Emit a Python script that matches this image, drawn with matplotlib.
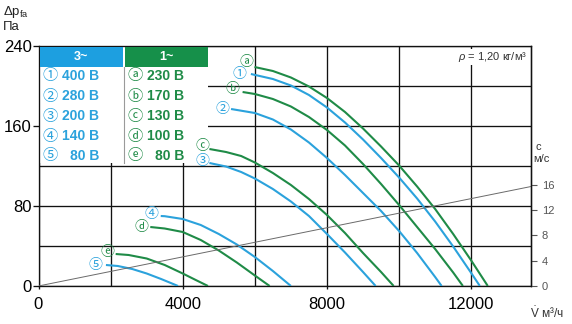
import matplotlib
matplotlib.use("Agg")
import matplotlib.pyplot as plt
from matplotlib.patches import Rectangle
from matplotlib.lines import Line2D
from matplotlib.ticker import MultipleLocator

plt.rcParams["font.family"] = ["Liberation Sans", "DejaVu Sans"]
plt.rcParams["mathtext.fontset"] = "custom"
plt.rcParams["mathtext.rm"] = "Liberation Sans"
plt.rcParams["mathtext.it"] = "Liberation Sans:italic"

# ---------------------------------------------------------------------------
# Fan curves: volume flow V (m3/h) vs. static pressure drop (Pa)
# ---------------------------------------------------------------------------
flow_1 = [5890, 6500, 7000, 7500, 8000, 8500, 9000, 9500, 10000, 10500,
          11000, 11500, 12000, 12240]
pres_1 = [212, 207, 200.5, 191, 178.5, 163.5, 146.5, 128, 108.5, 87.5,
          64.5, 39.5, 13, 0]
flow_2 = [5340, 6000, 6500, 7000, 7500, 8000, 8500, 9000, 9500, 10000,
          10500, 11000, 11180]
pres_2 = [177, 173, 166.5, 156.5, 143.5, 128, 111, 93, 75, 55, 33, 9, 0]
flow_3 = [4740, 5200, 5620, 6000, 6500, 7000, 7500, 8000, 8500, 9000, 9350]
pres_3 = [123, 119.5, 114, 107.5, 97, 84.5, 70, 52, 33.5, 14, 0]
flow_4 = [3390, 3500, 4000, 4500, 5000, 5500, 6000, 6500, 7000]
pres_4 = [70, 69.8, 67, 61, 52, 41.5, 29, 15, 0]
flow_5 = [1870, 2200, 2600, 3000, 3400, 3870]
pres_5 = [21, 20, 17, 12.5, 7, 0]

flow_a = [5990, 6500, 7000, 7500, 8000, 8500, 9000, 9500, 10000, 10500,
          11000, 11500, 12000, 12460]
pres_a = [219, 215, 208.5, 199.5, 188, 174, 157.5, 139.5, 120.5, 99.5,
          77, 52, 25.5, 0]
flow_b = [5660, 6000, 6500, 7000, 7500, 8000, 8500, 9000, 9500, 10000,
          10500, 11000, 11500, 11770]
pres_b = [194, 192, 187, 179.5, 169, 156, 140.5, 122, 102, 81, 59, 37,
          13.5, 0]
flow_c = [4740, 5200, 5620, 6000, 6500, 7000, 7500, 8000, 8500, 9000,
          9500, 9850]
pres_c = [137, 134, 130, 123.5, 113, 101, 87, 71, 53, 33, 14, 0]
flow_d = [3100, 3500, 4000, 4500, 5000, 5500, 6000, 6410]
pres_d = [59, 57.5, 54, 46, 35.5, 23.5, 10.5, 0]
flow_e = [2140, 2500, 3000, 3500, 4000, 4350, 4700]
pres_e = [32, 31, 27.5, 21, 12.5, 6.2, 0]

# outlet air velocity line (right axis, m/s)
vel_flow = [0, 13650]
vel_speed = [0, 15.7]

# legend table
three_phase_marks = ["①", "②", "③", "④", "⑤"]
three_phase_volts = ["400 В", "280 В", "200 В", "140 В", "80 В"]
single_phase_marks = ["ⓐ", "ⓑ", "ⓒ", "ⓓ", "ⓔ"]
single_phase_volts = ["230 В", "170 В", "130 В", "100 В", "80 В"]

BLUE = "#2ba2dc"
GREEN = "#1f8b47"
HEAD_BLUE = "#1d9fe0"
HEAD_GREEN = "#16904a"
GRID = "#111111"
CIRC = ["Noto Sans CJK JP", "DejaVu Sans"]

W, H, DPI = 572, 324, 100


def fx(px):
    return px / W


def fy(py):
    return 1 - py / H


fig = plt.figure(figsize=(W / DPI, H / DPI), dpi=DPI)
fig.patch.set_facecolor("white")
ax = fig.add_axes([fx(38.5), fy(286), (530.7 - 38.5) / W, 240 / H])
ax.set_xlim(0, 13650)
ax.set_ylim(0, 240)

ax.xaxis.set_major_locator(MultipleLocator(4000))
ax.xaxis.set_minor_locator(MultipleLocator(2000))
ax.yaxis.set_major_locator(MultipleLocator(80))
ax.yaxis.set_minor_locator(MultipleLocator(40))
ax.grid(True, which="both", color=GRID, lw=0.95)
ax.set_axisbelow(True)
for s in ax.spines.values():
    s.set_color(GRID)
    s.set_linewidth(0.95)
ax.tick_params(axis="y", which="major", length=4.5, width=0.95, pad=0.5,
               labelsize=12, color=GRID)
ax.tick_params(axis="x", which="major", length=2, width=0.95, pad=6,
               labelsize=12, color=GRID)
ax.tick_params(which="minor", length=0)

# white table background sits over the grid but under the curve labels
ax.add_patch(Rectangle((fx(40), fy(163)), (208 - 40) / W, (163 - 47) / H,
                       transform=fig.transFigure, fc="white", ec="none",
                       zorder=2.5, clip_on=False))

# velocity line on a secondary scale
ax2 = ax.twinx()
ax2.set_ylim(0, 37.9)
ax2.set_yticks([0, 4, 8, 12, 16])
ax2.tick_params(axis="y", length=4, width=0.8, pad=4, labelsize=8,
                color="#555555", labelcolor="#555555")
for name, s in ax2.spines.items():
    s.set_visible(name == "right")
ax2.spines["right"].set_color(GRID)
ax2.spines["right"].set_linewidth(0.95)
ax2.plot(vel_flow, vel_speed, color="#6a6a6a", lw=0.7, zorder=1)

curves = [
    (flow_a, pres_a, GREEN, "ⓐ", (-8, 5)),
    (flow_1, pres_1, BLUE, "①", (-11, 0)),
    (flow_b, pres_b, GREEN, "ⓑ", (-10, 3)),
    (flow_2, pres_2, BLUE, "②", (-9, 0)),
    (flow_c, pres_c, GREEN, "ⓒ", (-7, 3)),
    (flow_3, pres_3, BLUE, "③", (-7, 2)),
    (flow_4, pres_4, BLUE, "④", (-9, 2)),
    (flow_d, pres_d, GREEN, "ⓓ", (-9, 0)),
    (flow_e, pres_e, GREEN, "ⓔ", (-8, 2)),
    (flow_5, pres_5, BLUE, "⑤", (-10, 0)),
]
for fl, pr, col, mark, off in curves:
    ax.plot(fl, pr, color=col, lw=1.5, zorder=3, solid_capstyle="butt",
            solid_joinstyle="round")
    ax.annotate(mark, xy=(fl[0], pr[0]), xytext=off, textcoords="offset pixels",
                ha="center", va="center", fontsize=10, color=col,
                family=CIRC, zorder=4, annotation_clip=False)

# density note
ax.text(13560, 229, r"$\rho$ = 1,20 кг/м³", ha="right", va="center",
        fontsize=8, color="#333333", zorder=4,
        bbox=dict(boxstyle="square,pad=0.1", fc="white", ec="none"))

# ---- legend table header and rows ----
fig.patches.append(Rectangle((fx(40), fy(67)), (123 - 40) / W, 20 / H,
                             transform=fig.transFigure, fc=HEAD_BLUE, ec="none",
                             zorder=3))
fig.patches.append(Rectangle((fx(125), fy(67)), (208 - 125) / W, 20 / H,
                             transform=fig.transFigure, fc=HEAD_GREEN, ec="none",
                             zorder=3))
fig.lines.append(Line2D([fx(124), fx(124)], [fy(67), fy(163)],
                        transform=fig.transFigure, color="#9a9a9a", lw=0.8,
                        zorder=3))
fig.text(fx(81), fy(57), "3~", ha="center", va="center", color="white",
         fontsize=9, fontweight="bold", zorder=4)
fig.text(fx(166), fy(57), "1~", ha="center", va="center", color="white",
         fontsize=9, fontweight="bold", zorder=4)
for i in range(5):
    yy = fy(76 + 20 * i)
    fig.text(fx(50), yy, three_phase_marks[i], ha="center", va="center",
             color=BLUE, fontsize=11, family=CIRC, zorder=4)
    fig.text(fx(99), yy, three_phase_volts[i], ha="right", va="center",
             color=BLUE, fontsize=10, fontweight="bold", zorder=4)
    fig.text(fx(135), yy, single_phase_marks[i], ha="center", va="center",
             color=GREEN, fontsize=11, family=CIRC, zorder=4)
    fig.text(fx(184), yy, single_phase_volts[i], ha="right", va="center",
             color=GREEN, fontsize=10, fontweight="bold", zorder=4)

# axis captions
fig.text(fx(3), fy(12), r"Δp$_{\mathrm{fa}}$", ha="left", va="center",
         fontsize=9.5, color="#222222")
fig.text(fx(3), fy(27), "Па", ha="left", va="center", fontsize=9.5,
         color="#222222")
fig.text(fx(535), fy(147), "c", ha="left", va="center", fontsize=8,
         color="#333333")
fig.text(fx(533), fy(159), "м/с", ha="left", va="center", fontsize=8,
         color="#333333")
fig.text(fx(530), fy(313), r"$\dot{\mathrm{V}}$ м³/ч", ha="left", va="center",
         fontsize=8.5, color="#333333")

fig.savefig("out.png", dpi=DPI)
